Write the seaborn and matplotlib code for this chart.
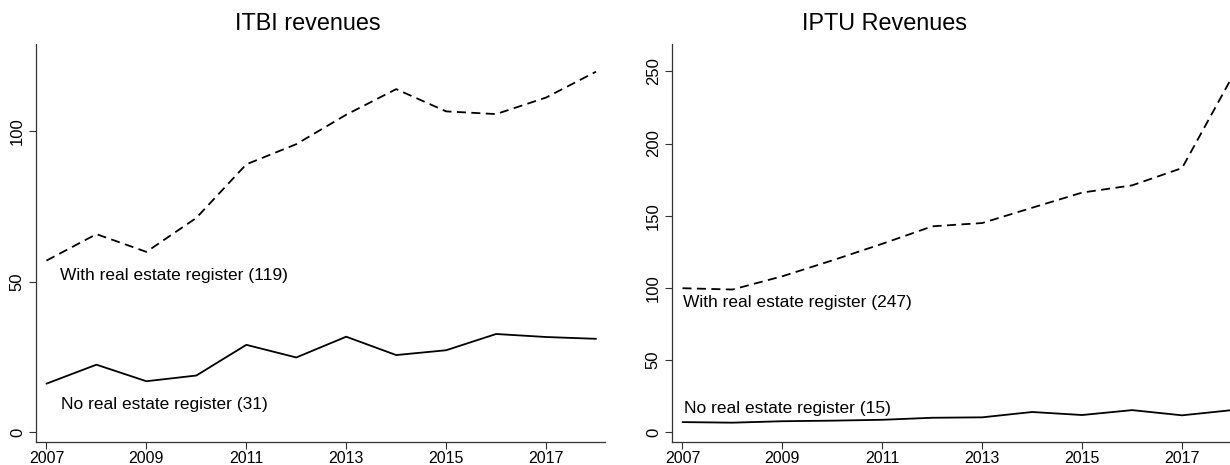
import matplotlib
matplotlib.use("Agg")
import matplotlib.pyplot as plt
import seaborn as sns
import pandas as pd

years = [2007, 2008, 2009, 2010, 2011, 2012, 2013, 2014, 2015, 2016, 2017, 2018]
itbi_with = [57.0, 65.8, 59.9, 71.2, 89.0, 95.7, 105.5, 114.0, 106.6, 105.7, 111.2, 119.8]
itbi_without = [16.1, 22.4, 16.9, 18.8, 29.0, 24.8, 31.7, 25.6, 27.2, 32.6, 31.6, 31.0]
iptu_with = [99.7, 98.8, 108.0, 119.0, 130.5, 142.6, 144.9, 155.5, 166.0, 171.0, 183.0, 246.0]
iptu_without = [6.9, 6.5, 7.5, 7.9, 8.5, 9.9, 10.2, 13.9, 11.8, 15.2, 11.6, 15.2]

titles = ["ITBI revenues", "IPTU Revenues"]
label_with = ["With real estate register (119)", "With real estate register (247)"]
label_without = ["No real estate register (31)", "No real estate register (15)"]
xticks = [2007, 2009, 2011, 2013, 2015, 2017]
yticks_left = [0, 50, 100]
yticks_right = [0, 50, 100, 150, 200, 250]

sns.set_style("white")
plt.rcParams['font.family'] = ['Liberation Sans', 'DejaVu Sans']
plt.rcParams['text.color'] = 'black'
plt.rcParams['xtick.color'] = 'black'
plt.rcParams['ytick.color'] = 'black'

W, H = 1230, 465
fig = plt.figure(figsize=(W / 100, H / 100), dpi=100)

def box(l, r, t, b):
    return [l / W, (H - b) / H, (r - l) / W, (b - t) / H]

ax1 = fig.add_axes(box(36, 605, 44, 442))
ax2 = fig.add_axes(box(672, 1241, 44, 442))

panels = [
    (ax1, itbi_with, itbi_without, (-3.3, 129), yticks_left, (52, 9), (2007.27, 2007.3), titles[0], 307.5),
    (ax2, iptu_with, iptu_without, (-6.9, 269), yticks_right, (90, 16.5), (2007.02, 2007.04), titles[1], 885),
]

for i, (ax, w, wo, ylim, yt, ty, txs, title, tx) in enumerate(panels):
    df = pd.DataFrame({"year": years, "with": w, "without": wo})
    sns.lineplot(data=df, x="year", y="with", ax=ax, color="black", lw=1.3)
    ax.lines[-1].set_dashes([5, 3])
    sns.lineplot(data=df, x="year", y="without", ax=ax, color="black", lw=1.3)
    ax.set_xlim(2006.79, 2018.18)
    ax.set_ylim(*ylim)
    ax.set_xticks(xticks)
    ax.set_yticks(yt)
    ax.set_xlabel("")
    ax.set_ylabel("")
    for s in ["top", "right"]:
        ax.spines[s].set_visible(False)
    for s in ["left", "bottom"]:
        ax.spines[s].set_color("#333333")
        ax.spines[s].set_linewidth(0.9)
    ax.tick_params(axis="both", which="major", length=5, width=0.8, color="#333333",
                   labelsize=12, labelcolor="black", direction="out", bottom=True, left=True, pad=3)
    ax.tick_params(axis="x", pad=1.2, labelsize=11.5)
    for lab in ax.get_yticklabels():
        lab.set_rotation(90)
        lab.set_va("center")
    ax.text(txs[0], ty[0], label_with[i], fontsize=12.5, va="center", ha="left", color="black")
    ax.text(txs[1], ty[1], label_without[i], fontsize=12.5, va="center", ha="left", color="black")
    fig.text(tx / W, (H - 23.5) / H, title, fontsize=16.8, ha="center", va="center", color="black")

fig.savefig("out.png", dpi=100)
